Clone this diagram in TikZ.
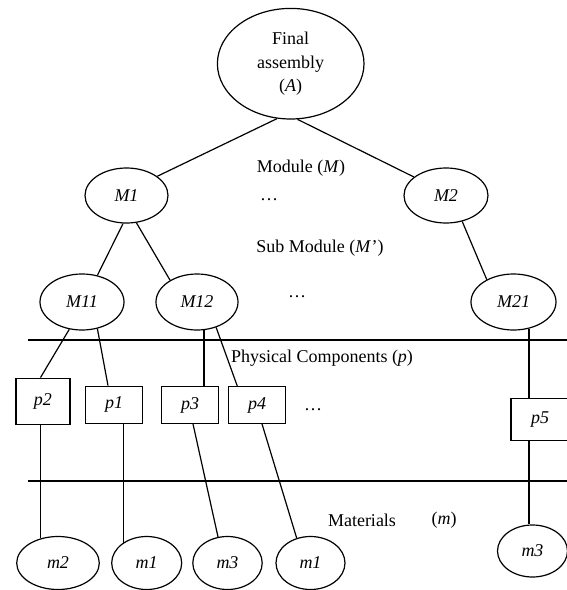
\documentclass[tikz,border=0pt]{standalone}
\usepackage{fontspec}
\setmainfont{Liberation Serif}
\usetikzlibrary{shapes.geometric,calc}
\begin{document}
\begin{tikzpicture}[x=1pt,y=-1pt,line width=1.2pt,
  every node/.style={font=\fontsize{18}{23.5}\selectfont,inner sep=0pt},
  ell/.style={draw,ellipse},
  pbox/.style={draw,rectangle},
  lbl/.style={anchor=center}]
\useasboundingbox (0,0) rectangle (567,590);
% ellipses
\node[ell,minimum width=146.6,minimum height=110.6,align=center] (A) at (290.7,63.7) {Final\\assembly\\(\textit{A})};
\node[ell,minimum width=83,minimum height=55] (M1) at (126.5,195.5) {\textit{M1}};
\node[ell,minimum width=84,minimum height=55] (M2) at (446,195.5) {\textit{M2}};
\node[ell,minimum width=84,minimum height=56] (M11) at (82,302) {\textit{M11}};
\node[ell,minimum width=82,minimum height=56] (M12) at (197,302) {\textit{M12}};
\node[ell,minimum width=85,minimum height=56] (M21) at (513.5,302) {\textit{M21}};
% boxes
\node[pbox,minimum width=54,minimum height=46.7] (p2) at (43,401.5) {\textit{p2}};
\node[pbox,minimum width=56.6,minimum height=37] (p1) at (114,404.7) {\textit{p1}};
\node[pbox,minimum width=56.6,minimum height=36.6] (p3) at (190,405) {\textit{p3}};
\node[pbox,minimum width=56.6,minimum height=36.6] (p4) at (257,405) {\textit{p4}};
\node[pbox,minimum width=58,minimum height=42.4] (p5) at (540,419.5) {\textit{p5}};
% materials
\node[ell,minimum width=82.6,minimum height=53] (m2) at (58,563) {\textit{m2}};
\node[ell,minimum width=70,minimum height=53] (m1a) at (146.7,563) {\textit{m1}};
\node[ell,minimum width=69.4,minimum height=53] (m3a) at (227.5,563) {\textit{m3}};
\node[ell,minimum width=69,minimum height=53] (m1b) at (310.5,563) {\textit{m1}};
\node[ell,minimum width=70,minimum height=52] (m3b) at (532.5,551) {\textit{m3}};
% level labels
\node[lbl] (tM) at (301,168) {Module (\textit{M})};
\node[lbl] (d1) at (269,200) {\dots};
\node[lbl] (tSM) at (320,248) {Sub Module (\textit{M}\kern0.5pt’)};
\node[lbl] (d2) at (297,297) {\dots};
\node[lbl] (tP) at (322,358) {Physical Components (\textit{p})};
\node[lbl] (d3) at (313,410) {\dots};
\node[lbl] (tMa) at (362,520) {Materials};
\node[lbl] (tm) at (444,520) {(\textit{m})};
% separators
\coordinate (s1a) at (27.5,340);
\coordinate (s1b) at (570,340);
\coordinate (s2a) at (27.5,481);
\coordinate (s2b) at (570,481);
\draw (s1a) -- (s1b);
\draw (s2a) -- (s2b);
% connectors
\draw (A.256) -- (M1.32);
\draw (A.277.5) -- (M2.150);
\draw (M1.263) -- (M11.60);
\draw (M1.290) -- (M12.141);
\draw (M2.302) -- (M21.140);
\draw (M11.245) -- ($(p2.north)+(-2.5,0)$);
\draw (M11.300) -- ($(p1.north)+(-6,0)$);
\draw (M12.284.8) -- (M12.284.8 |- p3.north);
\draw (M12.307) -- ($(p4.north)+(-19.7,0)$);
\draw (M21.300.8) -- (M21.300.8 |- p5.north);
\draw (m2.126.5 |- p2.south) -- (m2.126.5);
\draw (m1a.139.9 |- p1.south) -- (m1a.139.9);
\draw ($(p3.south)+(3,0)$) -- (m3a.110.8);
\draw ($(p4.south)+(5,0)$) -- (m1b.119);
\draw (M21.300.8 |- p5.south) -- (M21.300.8 |- m3b.north);
\end{tikzpicture}
\end{document}
